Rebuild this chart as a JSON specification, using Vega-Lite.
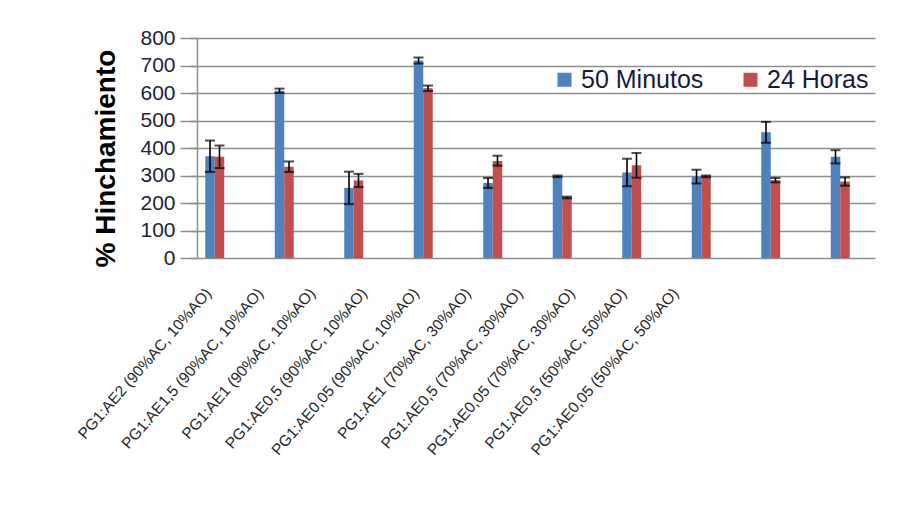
{
  "$schema": "https://vega.github.io/schema/vega-lite/v6.json",
  "width": 697,
  "height": 220,
  "autosize": {"type": "none"},
  "padding": {"left": 197, "top": 38, "right": 30, "bottom": 265},
  "background": "white",
  "config": {
    "view": {"stroke": null},
    "font": "Liberation Sans",
    "axisY": {
      "tickCount": 8,
      "labelOverlap": false,
      "grid": true,
      "gridColor": "#8e8e8e",
      "gridWidth": 1.5,
      "domainColor": "#8e8e8e",
      "domainWidth": 1.5,
      "tickColor": "#8e8e8e",
      "tickWidth": 1.5,
      "tickSize": 7,
      "labelFont": "Liberation Sans",
      "labelFontSize": 21,
      "labelColor": "#22223a",
      "labelPadding": 15
    }
  },
  "data": {
    "values": [
      {"muestra": "PG1:AE2 (90%AC, 10%AO)", "tiempo": "50 Minutos", "valor": 370, "min": 313, "max": 427},
      {"muestra": "PG1:AE2 (90%AC, 10%AO)", "tiempo": "24 Horas", "valor": 368, "min": 327, "max": 409},
      {"muestra": "PG1:AE1,5 (90%AC, 10%AO)", "tiempo": "50 Minutos", "valor": 608, "min": 600, "max": 616},
      {"muestra": "PG1:AE1,5 (90%AC, 10%AO)", "tiempo": "24 Horas", "valor": 332, "min": 313, "max": 351},
      {"muestra": "PG1:AE1 (90%AC, 10%AO)", "tiempo": "50 Minutos", "valor": 255, "min": 196, "max": 314},
      {"muestra": "PG1:AE1 (90%AC, 10%AO)", "tiempo": "24 Horas", "valor": 282, "min": 258, "max": 306},
      {"muestra": "PG1:AE0,5 (90%AC, 10%AO)", "tiempo": "50 Minutos", "valor": 718, "min": 707, "max": 729},
      {"muestra": "PG1:AE0,5 (90%AC, 10%AO)", "tiempo": "24 Horas", "valor": 617, "min": 607, "max": 627},
      {"muestra": "PG1:AE0,05 (90%AC, 10%AO)", "tiempo": "50 Minutos", "valor": 273, "min": 255, "max": 291},
      {"muestra": "PG1:AE0,05 (90%AC, 10%AO)", "tiempo": "24 Horas", "valor": 353, "min": 336, "max": 372},
      {"muestra": "PG1:AE1 (70%AC, 30%AO)", "tiempo": "50 Minutos", "valor": 297, "min": 294, "max": 300},
      {"muestra": "PG1:AE1 (70%AC, 30%AO)", "tiempo": "24 Horas", "valor": 220, "min": 217, "max": 223},
      {"muestra": "PG1:AE0,5 (70%AC, 30%AO)", "tiempo": "50 Minutos", "valor": 311, "min": 261, "max": 361},
      {"muestra": "PG1:AE0,5 (70%AC, 30%AO)", "tiempo": "24 Horas", "valor": 337, "min": 292, "max": 382},
      {"muestra": "PG1:AE0,05 (70%AC, 30%AO)", "tiempo": "50 Minutos", "valor": 296, "min": 271, "max": 321},
      {"muestra": "PG1:AE0,05 (70%AC, 30%AO)", "tiempo": "24 Horas", "valor": 297, "min": 294, "max": 300},
      {"muestra": "PG1:AE0,5 (50%AC, 50%AO)", "tiempo": "50 Minutos", "valor": 457, "min": 419, "max": 495},
      {"muestra": "PG1:AE0,5 (50%AC, 50%AO)", "tiempo": "24 Horas", "valor": 283, "min": 275, "max": 291},
      {"muestra": "PG1:AE0,05 (50%AC, 50%AO)", "tiempo": "50 Minutos", "valor": 368, "min": 344, "max": 392},
      {"muestra": "PG1:AE0,05 (50%AC, 50%AO)", "tiempo": "24 Horas", "valor": 278, "min": 263, "max": 293}
    ]
  },
  "layer": [
    {
      "encoding": {
        "x": {
          "field": "muestra",
          "type": "nominal",
          "sort": null,
          "scale": {"range": [-17, 678], "paddingInner": 0.727, "paddingOuter": 0.3635},
          "axis": null
        },
        "xOffset": {
          "field": "tiempo",
          "type": "nominal",
          "sort": ["50 Minutos", "24 Horas"],
          "scale": {"paddingInner": 0, "paddingOuter": 0}
        }
      },
      "layer": [
        {
          "mark": {"type": "bar"},
          "encoding": {
            "y": {
              "field": "valor",
              "type": "quantitative",
              "scale": {"domain": [0, 800], "nice": false},
              "axis": {
                "title": "% Hinchamiento",
                "titleFont": "Liberation Sans",
                "titleFontSize": 28,
                "titleFontWeight": "bold",
                "titleColor": "#000000",
                "titleAngle": 270,
                "titleAlign": "center",
                "titleBaseline": "middle",
                "titleX": -91,
                "titleY": 120
              }
            },
            "color": {
              "field": "tiempo",
              "type": "nominal",
              "sort": ["50 Minutos", "24 Horas"],
              "scale": {"domain": ["50 Minutos", "24 Horas"], "range": ["#4F81BD", "#C0504D"]},
              "legend": {
                "title": null,
                "orient": "none",
                "direction": "horizontal",
                "legendX": 355,
                "legendY": 29,
                "padding": 0,
                "symbolType": "square",
                "symbolSize": 196,
                "symbolStrokeWidth": 0,
                "labelFont": "Liberation Sans",
                "labelFontSize": 25,
                "labelColor": "#1a1a38",
                "labelOffset": 4,
                "columnPadding": 34
              }
            }
          }
        },
        {
          "mark": {"type": "rule", "color": "#000000", "strokeWidth": 1.6},
          "encoding": {
            "y": {"field": "min", "type": "quantitative"},
            "y2": {"field": "max"}
          }
        },
        {
          "mark": {"type": "tick", "color": "#000000", "thickness": 2, "size": 10},
          "encoding": {"y": {"field": "min", "type": "quantitative"}}
        },
        {
          "mark": {"type": "tick", "color": "#000000", "thickness": 2, "size": 10},
          "encoding": {"y": {"field": "max", "type": "quantitative"}}
        }
      ]
    },
    {
      "mark": {"type": "text", "text": ""},
      "encoding": {
        "x": {
          "field": "muestra",
          "type": "nominal",
          "sort": null,
          "scale": {"range": [-15, 504], "paddingInner": 0, "paddingOuter": 0},
          "axis": {
            "orient": "bottom",
            "title": null,
            "domain": false,
            "ticks": false,
            "grid": false,
            "labelAngle": -49,
            "labelAlign": "right",
            "labelBaseline": "middle",
            "labelPadding": 32,
            "labelFont": "Liberation Sans",
            "labelFontSize": 15.5,
            "labelColor": "#262626",
            "labelLimit": 400,
            "labelOverlap": false
          }
        }
      }
    }
  ],
  "resolve": {"scale": {"x": "independent"}, "axis": {"x": "independent"}}
}
